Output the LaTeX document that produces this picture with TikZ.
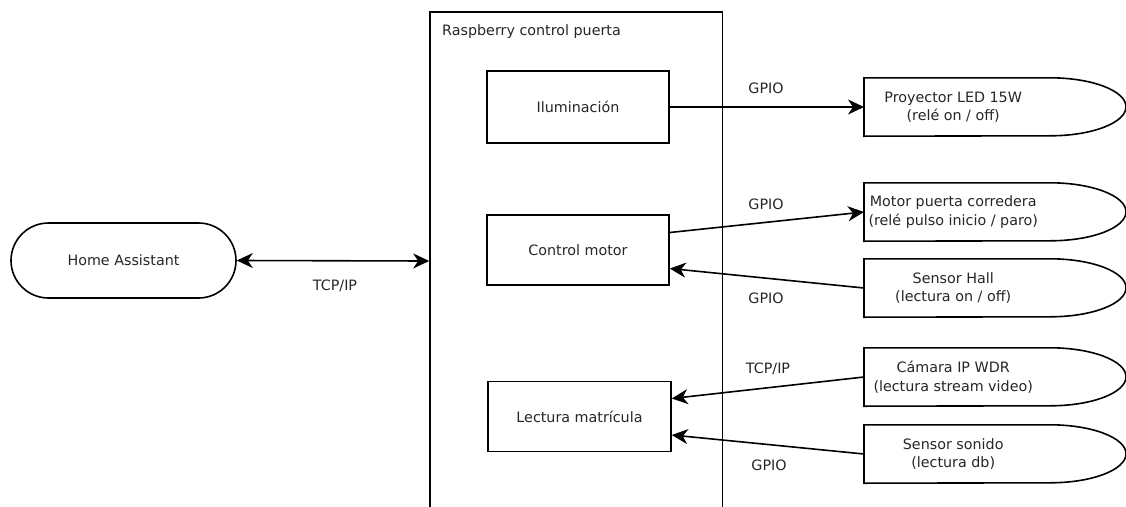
\documentclass[tikz,border=0pt]{standalone}
\usepackage{fontspec}
\setmainfont{DejaVu Sans}
\usetikzlibrary{arrows.meta}
\begin{document}
\begin{tikzpicture}[x=1pt,y=-1pt,
  font=\fontsize{14.3}{18.5}\selectfont,
  every node/.style={text=black!85},
  >={Stealth[length=16pt,width=15pt,inset=5pt]},
  line/.style={line width=1.6pt,draw=black},
  boxnode/.style={line, rectangle, minimum width=182pt, minimum height=71pt, inner sep=0pt},
  dtext/.style={rectangle, draw=none, anchor=west, minimum width=178pt, minimum height=58pt, inner sep=0pt, align=center},
  conn/.style={line, ->},
  biconn/.style={line, <->},
  lbl/.style={inner sep=0pt}
]
\clip (0,0) rectangle (1126,506);
\fill[white] (0,0) rectangle (1126,506);

% Raspberry container
\node[line, rectangle, minimum width=292.5pt, minimum height=498pt, inner sep=0pt] (rpi) at (576.25,261) {};
\node[lbl, anchor=west] (rpilbl) at (442,32) {Raspberry control puerta};

% Home Assistant
\node[line, rectangle, rounded corners=37.5pt, minimum width=225pt, minimum height=75pt, inner sep=0pt] (ha) at (123.5,260.5) {Home Assistant};

% inner boxes
\node[boxnode, minimum height=72pt] (ilum) at (578,107) {Iluminación};
\node[boxnode, minimum height=70pt] (cm) at (578,250) {Control motor};
\node[boxnode, minimum width=183pt, minimum height=70pt] (lm) at (579.5,416.5) {Lectura matrícula};

% right side D-shapes
\node[dtext] (proj) at (864,107) {Proyector LED 15W\\(relé on / off)};
\node[dtext] (mot) at (864,212) {Motor puerta corredera\\(relé pulso inicio / paro)};
\node[dtext] (hall) at (864,288) {Sensor Hall\\(lectura on / off)};
\node[dtext] (cam) at (864,377) {Cámara IP WDR\\(lectura stream video)};
\node[dtext] (son) at (864,454) {Sensor sonido\\(lectura db)};

\foreach \n in {proj,mot,hall,cam,son}{
  \draw[line] (\n.north west) -- ++(186,0)
    arc[start angle=90, end angle=-90, x radius=76pt, y radius=29pt]
    -- (\n.south west) -- cycle;
}

% connectors
\draw[biconn] (ha.east) -- (rpi.west);
\draw[conn] (ilum.east) -- (proj.west);
\draw[conn] ([yshift=17.5pt]cm.east) -- (mot.west);
\draw[conn] (hall.west) -- ([yshift=-18.5pt]cm.east);
\draw[conn] (cam.west) -- ([yshift=18pt]lm.east);
\draw[conn] (son.west) -- ([yshift=-18.5pt]lm.east);

% labels
\node[lbl] (l0) at (335,286) {TCP/IP};
\node[lbl] (l1) at (766,88) {GPIO};
\node[lbl] (l2) at (766,204) {GPIO};
\node[lbl] (l3) at (766,298) {GPIO};
\node[lbl] (l4) at (768,369) {TCP/IP};
\node[lbl] (l5) at (769,465) {GPIO};
\end{tikzpicture}
\end{document}
